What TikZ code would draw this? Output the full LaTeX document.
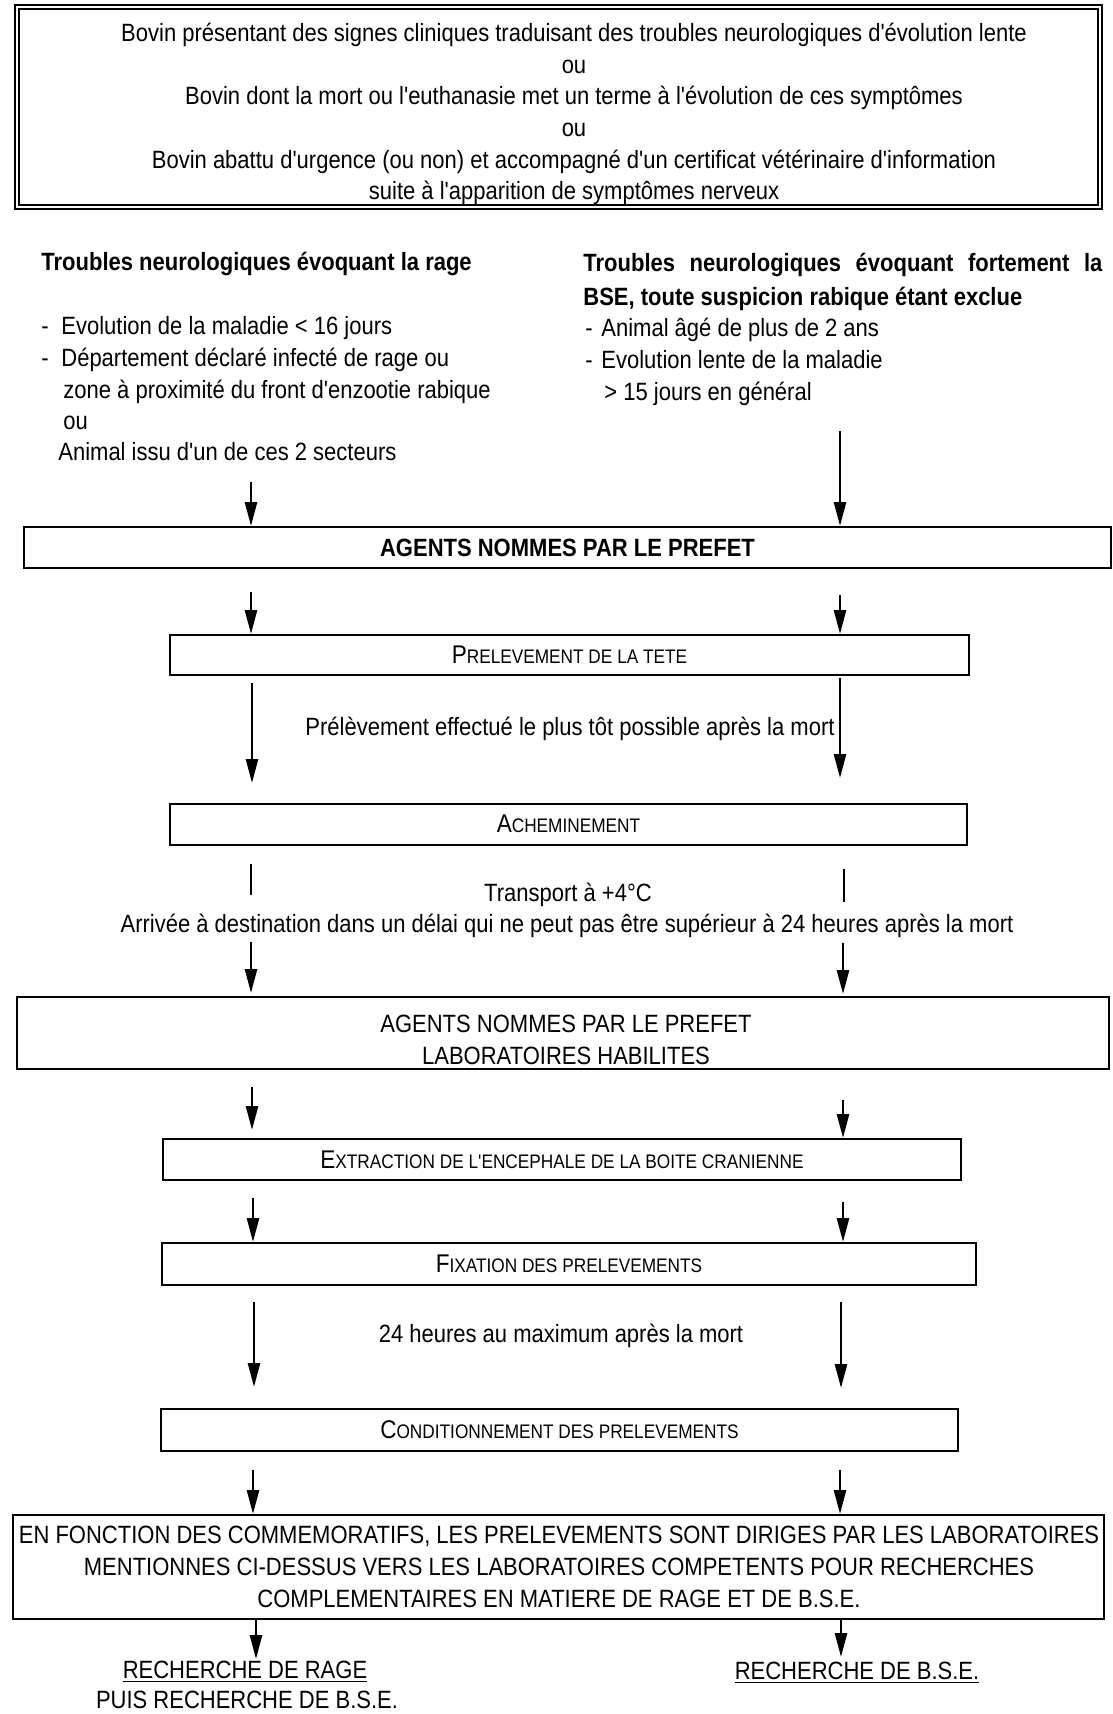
\documentclass[tikz,border=0pt]{standalone}
\usepackage{fontspec}
\setmainfont{Liberation Sans}[FakeStretch=0.88,Ligatures=TeXOff]
\usetikzlibrary{arrows.meta}
\newcommand\fs{\fontsize{12.5}{15.8}\selectfont}
\newcommand\fsc[2]{{\fontsize{12.8}{14}\selectfont #1}{\fontsize{9.8}{10}\selectfont #2}}
\begin{document}
\begin{tikzpicture}[x=0.5pt,y=-0.5pt,
  box/.style={draw, line width=1pt, inner sep=0pt, font=\fs, align=center},
  txt/.style={inner sep=0pt, font=\fs},
  arr/.style={line width=1.3pt, -{Triangle[length=12pt,width=6pt]}},
  bar/.style={line width=1.3pt}]
\useasboundingbox[fill=white] (0,0) rectangle (1113,1714);

% top double box
\node[draw, line width=1pt, minimum width=543.5pt, minimum height=102pt, inner sep=0pt] (top) at (558.5,107) {};
\draw[line width=0.9pt] ([xshift=2.5pt,yshift=-2.5pt]top.north west) rectangle ([xshift=-2.5pt,yshift=2.5pt]top.south east);
\node[txt, align=center] (toptext) at (574,114) {Bovin présentant des signes cliniques traduisant des troubles neurologiques d'évolution lente\\ ou\\ Bovin dont la mort ou l'euthanasie met un terme à l'évolution de ces symptômes\\ ou\\ Bovin abattu d'urgence (ou non) et accompagné d'un certificat vétérinaire d'information\\ suite à l'apparition de symptômes nerveux};

% headings
\node[txt, anchor=base west, font=\fs\bfseries] (hl) at (41,270) {Troubles neurologiques évoquant la rage};
\node[txt, anchor=base west, font=\fs\bfseries] (hr1) at (583,271) {\makebox[259.5pt][s]{Troubles neurologiques évoquant fortement la}};
\node[txt, anchor=base west, font=\fs\bfseries] (hr2) at (583,305) {BSE, toute suspicion rabique étant exclue};

% left list
\node[txt, anchor=base west] (ld1) at (41,334) {-};
\node[txt, anchor=base west] (lt1) at (61,334) {Evolution de la maladie < 16 jours};
\node[txt, anchor=base west] (ld2) at (41,366) {-};
\node[txt, anchor=base west] (lt2) at (61,366) {Département déclaré infecté de rage ou};
\node[txt, anchor=base west] (lt3) at (63,398) {zone à proximité du front d'enzootie rabique};
\node[txt, anchor=base west] (lt4) at (63,429) {ou};
\node[txt, anchor=base west] (lt5) at (58,460) {Animal issu d'un de ces 2 secteurs};

% right list
\node[txt, anchor=base west] (rd1) at (585,336) {-};
\node[txt, anchor=base west] (rt1) at (601,336) {Animal âgé de plus de 2 ans};
\node[txt, anchor=base west] (rd2) at (585,368) {-};
\node[txt, anchor=base west] (rt2) at (601,368) {Evolution lente de la maladie};
\node[txt, anchor=base west] (rt3) at (604,400) {> 15 jours en général};

% boxes
\node[box, minimum width=543.5pt, minimum height=20.5pt, font=\fs\bfseries] (A1) at (567.5,547.5) {AGENTS NOMMES PAR LE PREFET};
\node[box, minimum width=399.5pt, minimum height=20pt] (P) at (569.5,655) {\fsc{P}{RELEVEMENT DE LA TETE}};
\node[box, minimum width=398.5pt, minimum height=20.5pt] (Ach) at (568.5,824) {\fsc{A}{CHEMINEMENT}};
\node[box, minimum width=546pt, minimum height=36pt] (AL) at (563,1033) {};
\node[txt, align=center, font=\fontsize{12.5}{16}\selectfont] (ALt) at (566,1039.5) {AGENTS NOMMES PAR LE PREFET\\ LABORATOIRES HABILITES};
\node[box, minimum width=399pt, minimum height=20.5pt] (Ext) at (562,1159.5) {\fsc{E}{XTRACTION DE L'ENCEPHALE DE LA BOITE CRANIENNE}};
\node[box, minimum width=407pt, minimum height=21pt] (Fix) at (569,1264) {\fsc{F}{IXATION DES PRELEVEMENTS}};
\node[box, minimum width=398.5pt, minimum height=21pt] (Cond) at (559.5,1430) {\fsc{C}{ONDITIONNEMENT DES PRELEVEMENTS}};
\node[box, minimum width=545.5pt, minimum height=52pt] (Big) at (558.5,1567) {};
\node[txt, align=center, font=\fontsize{12.5}{16}\selectfont] (Bigt) at (559,1567) {EN FONCTION DES COMMEMORATIFS, LES PRELEVEMENTS SONT DIRIGES PAR LES LABORATOIRES\\ MENTIONNES CI-DESSUS VERS LES LABORATOIRES COMPETENTS POUR RECHERCHES\\ COMPLEMENTAIRES EN MATIERE DE RAGE ET DE B.S.E.};

% free texts
\node[txt] (t1) at (570,729) {Prélèvement effectué le plus tôt possible après la mort};
\node[txt] (t2) at (568,895) {Transport à +4°C};
\node[txt] (t3) at (567,926) {Arrivée à destination dans un délai qui ne peut pas être supérieur à 24 heures après la mort};
\node[txt] (t4) at (561,1336) {24 heures au maximum après la mort};
\node[txt] (r1) at (245,1672) {\underline{RECHERCHE DE RAGE}};
\node[txt] (r2) at (247,1700) {PUIS RECHERCHE DE B.S.E.};
\node[txt] (r3) at (857,1673) {\underline{RECHERCHE DE B.S.E.}};

% coordinates
\coordinate (a1L) at (251,482);
\coordinate (a1R) at (840,431);
\coordinate (a2L) at (251,592);
\coordinate (a2R) at (840,595);
\coordinate (a3L) at (252,683);
\coordinate (a3Le) at (252,783);
\coordinate (a3R) at (840,678);
\coordinate (a3Re) at (840,778);
\coordinate (bL) at (251,864);
\coordinate (bLe) at (251,895);
\coordinate (bR) at (844,869);
\coordinate (bRe) at (844,902);
\coordinate (a4L) at (251,942);
\coordinate (a4Le) at (251,993);
\coordinate (a4R) at (843,943);
\coordinate (a4Re) at (843,994);
\coordinate (a5L) at (252,1087);
\coordinate (a5Le) at (252,1130);
\coordinate (a5R) at (843,1100);
\coordinate (a6L) at (253,1198);
\coordinate (a6R) at (843,1202);
\coordinate (a7L) at (254,1302);
\coordinate (a7Le) at (254,1387);
\coordinate (a7R) at (841,1302);
\coordinate (a7Re) at (841,1388);
\coordinate (a8L) at (253,1470);
\coordinate (a8R) at (840,1470);
\coordinate (a9L) at (256,1659);
\coordinate (a9R) at (841,1657);

% arrows
\draw[arr] (a1L) -- (a1L |- A1.north);
\draw[arr] (a1R) -- (a1R |- A1.north);
\draw[arr] (a2L) -- (a2L |- P.north);
\draw[arr] (a2R) -- (a2R |- P.north);
\draw[arr] (a3L) -- (a3Le);
\draw[arr] (a3R) -- (a3Re);
\draw[bar] (bL) -- (bLe);
\draw[bar] (bR) -- (bRe);
\draw[arr] (a4L) -- (a4Le);
\draw[arr] (a4R) -- (a4Re);
\draw[arr] (a5L) -- (a5Le);
\draw[arr] (a5R) -- (a5R |- Ext.north);
\draw[arr] (a6L) -- (a6L |- Fix.north);
\draw[arr] (a6R) -- (a6R |- Fix.north);
\draw[arr] (a7L) -- (a7Le);
\draw[arr] (a7R) -- (a7Re);
\draw[arr] (a8L) -- (a8L |- Big.north);
\draw[arr] (a8R) -- (a8R |- Big.north);
\draw[arr] (a9L |- Big.south) -- (a9L);
\draw[arr] (a9R |- Big.south) -- (a9R);
\end{tikzpicture}
\end{document}
